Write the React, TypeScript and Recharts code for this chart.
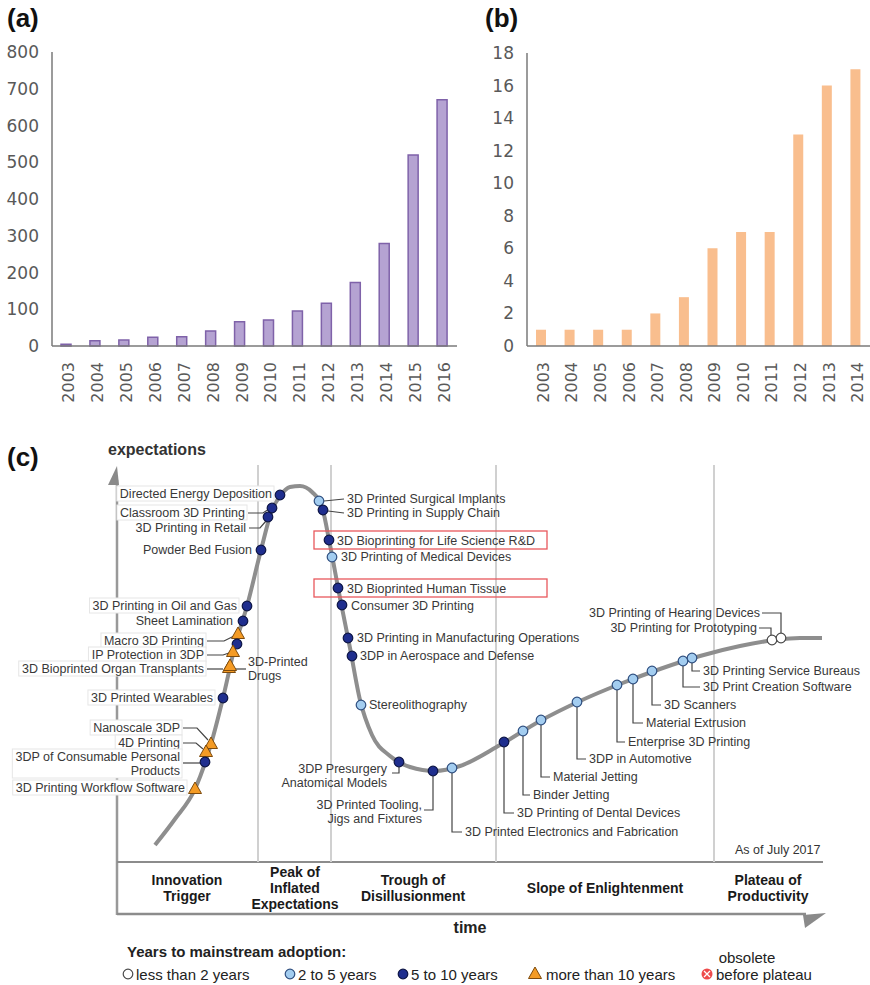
import React from 'react';
import {
  BarChart, Bar, XAxis, YAxis,
  ComposedChart, Line, Scatter, ReferenceLine,
} from 'recharts';

// (a) yearly counts 2003-2016
const yearsA = ['2003', '2004', '2005', '2006', '2007', '2008', '2009', '2010', '2011', '2012', '2013', '2014', '2015', '2016'];
const countsA = [5, 14, 16, 24, 25, 41, 66, 71, 95, 116, 173, 279, 520, 670];
const ticksA = [0, 100, 200, 300, 400, 500, 600, 700, 800];

// (b) yearly counts 2003-2014
const yearsB = ['2003', '2004', '2005', '2006', '2007', '2008', '2009', '2010', '2011', '2012', '2013', '2014'];
const countsB = [1, 1, 1, 1, 2, 3, 6, 7, 7, 13, 16, 17];
const ticksB = [0, 2, 4, 6, 8, 10, 12, 14, 16, 18];

// (c) hype cycle curve (time, expectations)
const curveTime = [38, 58, 78, 94, 106, 118, 130, 144, 155, 163, 173, 183, 195, 205, 213, 223, 233, 243, 255, 273, 293, 318, 343, 383, 423, 463, 503, 543, 583, 623, 658, 683, 705];
const curveExpect = [17, 43, 73, 118, 164, 216, 256, 312, 352, 366, 375, 376, 370, 355, 317, 264, 214, 162, 127, 106, 95, 91, 96, 117, 141, 161, 178, 193, 206, 216, 222, 224, 224];

const phaseBounds = [141, 214, 379, 597];
const phaseNames = ['Innovation\nTrigger', 'Peak of\nInflated\nExpectations', 'Trough of\nDisillusionment', 'Slope of Enlightenment', 'Plateau of\nProductivity'];

const techNames = [
  'Directed Energy Deposition', 'Classroom 3D Printing', '3D Printing in Retail', 'Powder Bed Fusion',
  '3D Printing in Oil and Gas', 'Sheet Lamination', 'Macro 3D Printing', '', 'IP Protection in 3DP',
  '3D Bioprinted Organ Transplants', '3D-Printed\nDrugs', '3D Printed Wearables', 'Nanoscale 3DP', '4D Printing',
  '3DP of Consumable Personal\nProducts', '3D Printing Workflow Software',
  '3D Printed Surgical Implants', '3D Printing in Supply Chain', '3D Bioprinting for Life Science R&D',
  '3D Printing of Medical Devices', '3D Bioprinted Human Tissue', 'Consumer 3D Printing',
  '3D Printing in Manufacturing Operations', '3DP in Aerospace and Defense', 'Stereolithography',
  '3DP Presurgery\nAnatomical Models', '3D Printed Tooling,\nJigs and Fixtures', '3D Printed Electronics and Fabrication',
  '3D Printing of Dental Devices', 'Binder Jetting', 'Material Jetting', '3DP in Automotive',
  'Enterprise 3D Printing', 'Material Extrusion', '3D Scanners', '3D Print Creation Software',
  '3D Printing Service Bureaus', '3D Printing for Prototyping', '3D Printing of Hearing Devices',
];
const techTime = [163, 155, 151, 144, 130, 126, 121, 120, 116, 112, 113, 106, 94, 89, 88, 78,
  202, 206, 212, 215, 221, 225, 231, 235, 244, 282, 316, 335, 387, 406, 424, 460, 500, 516, 535, 566, 575, 655, 664];
const techExpect = [367, 354, 345, 312, 256, 241, 228, 218, 210, 194, 196, 164, 118, 110, 100, 73,
  361, 352, 322, 305, 274, 257, 224, 206, 157, 100, 91, 94, 120, 131, 142, 160, 177, 183, 191, 201, 204, 222, 224];
const techAdoption = ['5-10', '5-10', '5-10', '5-10', '5-10', '5-10', '10+', '5-10', '10+', '10+', '10+', '5-10', '10+', '10+', '5-10', '10+',
  '2-5', '5-10', '5-10', '2-5', '5-10', '5-10', '5-10', '5-10', '2-5', '5-10', '5-10', '2-5', '5-10', '2-5', '2-5', '2-5', '2-5', '2-5', '2-5', '2-5', '2-5', '<2', '<2'];

const legendKeys = ['<2', '2-5', '5-10', '10+'];
const legendLabels = ['less than 2 years', '2 to 5 years', '5 to 10 years', 'more than 10 years'];

// ---- layout / styles ----
const drop = (dx: number, dy: number, gap = 3) => [[0, dy > 0 ? 5 : -5], [0, dy], [dx - Math.sign(dx) * gap, dy]];

const labelLayout: any[] = [
  { dx: -8, dy: -1, anchor: 'end', box: true },
  { dx: -27, dy: 5, anchor: 'end', conn: [[-24, 5], [-9, 5], [-3, 1]], box: true },
  { dx: -22, dy: 11, anchor: 'end', conn: [[-19, 11], [-8, 11], [-2, 4]] },
  { dx: -9, dy: 0, anchor: 'end' },
  { dx: -10, dy: 0, anchor: 'end', box: true },
  { dx: -10, dy: 0, anchor: 'end' },
  { dx: -34, dy: 7, anchor: 'end', conn: [[-31, 7], [-14, 7], [-4, 2]], box: true },
  {},
  { dx: -29, dy: 3, anchor: 'end', conn: [[-26, 3], [-10, 3], [-4, 1]], box: true },
  { dx: -25, dy: 1, anchor: 'end', conn: [[-22, 1], [-6, 1]], box: true },
  { dx: 18, dy: -4, anchor: 'start', conn: [[5, 3], [16, 3]] },
  { dx: -10, dy: 0, anchor: 'end', box: true },
  { dx: -31, dy: -16, anchor: 'end', conn: [[-28, -16], [-14, -16], [-3, -4]], box: true },
  { dx: -26, dy: -9, anchor: 'end', conn: [[-23, -9], [-10, -9], [-3, -3]], box: true },
  { dx: -25, dy: -5, anchor: 'end', conn: [[-22, 1], [-5, 1]], box: true },
  { dx: -10, dy: -1, anchor: 'end', box: true },
  { dx: 28, dy: -2, anchor: 'start', conn: [[5, 0], [25, -2]] },
  { dx: 24, dy: 3, anchor: 'start', conn: [[5, 1], [21, 3]] },
  { dx: 8, dy: 1, anchor: 'start', red: [-15, -9, 233, 18] },
  { dx: 9, dy: 0, anchor: 'start' },
  { dx: 9, dy: 1, anchor: 'start', red: [-24, -9, 233, 18] },
  { dx: 9, dy: 1, anchor: 'start' },
  { dx: 9, dy: 0, anchor: 'start' },
  { dx: 8, dy: 0, anchor: 'start' },
  { dx: 8, dy: 0, anchor: 'start' },
  { dx: -12, dy: 7, anchor: 'end', conn: [[0, 5], [0, 11], [-7, 11]] },
  { dx: -11, dy: 34, anchor: 'end', conn: [[0, 5], [0, 39], [-9, 39]] },
  { dx: 13, dy: 64, anchor: 'start', conn: drop(13, 64) },
  { dx: 13, dy: 71, anchor: 'start', conn: drop(13, 71) },
  { dx: 10, dy: 64, anchor: 'start', conn: drop(10, 64) },
  { dx: 12, dy: 57, anchor: 'start', conn: drop(12, 57) },
  { dx: 12, dy: 57, anchor: 'start', conn: drop(12, 57) },
  { dx: 11, dy: 57, anchor: 'start', conn: drop(11, 57) },
  { dx: 13, dy: 44, anchor: 'start', conn: drop(13, 44) },
  { dx: 12, dy: 34, anchor: 'start', conn: drop(12, 34) },
  { dx: 20, dy: 26, anchor: 'start', conn: drop(20, 26) },
  { dx: 11, dy: 13, anchor: 'start', conn: drop(11, 13) },
  { dx: -15, dy: -12, anchor: 'end', conn: [[-1, -5], [-1, -12], [-13, -12]] },
  { dx: -21, dy: -25, anchor: 'end', conn: [[0, -5], [0, -25], [-19, -25]] },
];

const markerStyle: Record<string, { fill: string; stroke: string }> = {
  '<2': { fill: '#ffffff', stroke: '#4a4a4a' },
  '2-5': { fill: '#a3cdf0', stroke: '#2f4f80' },
  '5-10': { fill: '#1f2e8e', stroke: '#0d1545' },
  '10+': { fill: '#f49b25', stroke: '#7d4a0c' },
};

const dataA = yearsA.map((year, i) => ({ year, count: countsA[i] }));
const dataB = yearsB.map((year, i) => ({ year, count: countsB[i] }));
const curveData = curveTime.map((t, i) => ({ t, e: curveExpect[i] }));
const techData = techNames.map((name, i) => ({
  name, t: techTime[i], e: techExpect[i], adoption: techAdoption[i], lay: labelLayout[i],
}));

const LABEL_FONT = 12.5;
const FONT = '"Liberation Sans", Arial, sans-serif';
const AXIS_FONT = '"DejaVu Sans", Verdana, sans-serif';

let ctx: CanvasRenderingContext2D | null = null;
const textWidth = (s: string) => {
  if (!ctx) ctx = document.createElement('canvas').getContext('2d');
  if (!ctx) return s.length * 6.5;
  ctx.font = `${LABEL_FONT}px "Liberation Sans"`;
  return ctx.measureText(s).width;
};

const YearTick = (props: any) => {
  const { x, y, payload } = props;
  return (
    <g transform={`translate(${x + 2},${y}) rotate(-90)`}>
      <text x={-14} y={0} textAnchor="end" dominantBaseline="central" fontSize={16} fontFamily={AXIS_FONT} fill="#595959">
        {payload.value}
      </text>
    </g>
  );
};

const Marker = ({ cx, cy, kind }: { cx: number; cy: number; kind: string }) => {
  const s = markerStyle[kind];
  if (kind === '10+') {
    return <path d={`M${cx},${cy - 7} L${cx + 6.5},${cy + 4.5} L${cx - 6.5},${cy + 4.5} Z`} fill={s.fill} stroke={s.stroke} strokeWidth={1} />;
  }
  return <circle cx={cx} cy={cy} r={4.8} fill={s.fill} stroke={s.stroke} strokeWidth={1.2} />;
};

const TechLabel = (props: any) => {
  const { cx, cy, payload } = props;
  if (cx == null || cy == null || !payload.name) return <g />;
  const lay = payload.lay;
  const lines: string[] = payload.name.split('\n');
  const tx = cx + lay.dx;
  const ty = cy + lay.dy;
  let box = null;
  if (lay.box) {
    const w = Math.max(...lines.map(textWidth));
    const x0 = lay.anchor === 'end' ? tx - w - 3 : tx - 3;
    box = <rect x={x0} y={ty - 8} width={w + 5} height={lines.length * 14 + 1} fill="#ffffff" stroke="#e6e6e6" strokeWidth={1} />;
  }
  return (
    <g>
      {lay.red && (
        <rect x={cx + lay.red[0]} y={cy + lay.red[1]} width={lay.red[2]} height={lay.red[3]} fill="none" stroke="#e9585c" strokeWidth={1.3} />
      )}
      {box}
      {lay.conn && (
        <polyline points={lay.conn.map((p: number[]) => `${cx + p[0]},${cy + p[1]}`).join(' ')} fill="none" stroke="#444" strokeWidth={1.2} />
      )}
      <text textAnchor={lay.anchor} fontSize={LABEL_FONT} fontFamily={FONT} fill="#383838">
        {lines.map((l, i) => (
          <tspan key={i} x={tx} y={ty + i * 14} dominantBaseline="central">{l}</tspan>
        ))}
      </text>
    </g>
  );
};

const TechMarker = (props: any) => {
  const { cx, cy, payload } = props;
  if (cx == null || cy == null) return <g />;
  return <Marker cx={cx} cy={cy} kind={payload.adoption} />;
};

const phaseCenters = [187, 295, 413, 605, 768];
const legendX = [128, 290, 403, 535];

const App = () => {
  return (
    <div style={{ position: 'relative', width: 870, height: 985, overflow: 'hidden', background: '#fff', fontFamily: FONT }}>
      <style>{'body{margin:0}'}</style>
      <svg width={870} height={985} style={{ position: 'absolute', left: 0, top: 0 }}>
        <text x={7} y={27} fontSize={26} fontWeight="bold" fill="#111">(a)</text>
        <text x={485} y={27} fontSize={26} fontWeight="bold" fill="#111">(b)</text>
        <text x={7} y={466} fontSize={26} fontWeight="bold" fill="#111">(c)</text>
        <text x={108} y={455} fontSize={16} fontWeight="bold" fill="#333">expectations</text>
        <line x1={117} y1={480} x2={117} y2={915} stroke="#999" strokeWidth={2.5} />
        <polygon points="117,466 108,485 119,485" fill="#8a8a8a" />
        <line x1={117} y1={862} x2={823} y2={862} stroke="#8c8c8c" strokeWidth={2} />
        <line x1={117} y1={914} x2={806} y2={914} stroke="#8c8c8c" strokeWidth={2.5} />
        <polygon points="803,915 826,913 805,928" fill="#8a8a8a" />
        <text x={735} y={854} fontSize={12.5} fill="#333">As of July 2017</text>
        {phaseNames.map((p, i) => {
          const ls = p.split('\n');
          const y0 = 888 - (ls.length - 1) * 8;
          return (
            <text key={i} textAnchor="middle" fontSize={14} fontWeight="bold" fill="#1a1a1a">
              {ls.map((l, j) => (
                <tspan key={j} x={phaseCenters[i]} y={y0 + j * 16} dominantBaseline="central">{l}</tspan>
              ))}
            </text>
          );
        })}
        <text x={470} y={933} textAnchor="middle" fontSize={16} fontWeight="bold" fill="#222">time</text>
        <text x={127} y={957} fontSize={15} fontWeight="bold" fill="#222">Years to mainstream adoption:</text>
        {legendKeys.map((k, i) => (
          <g key={k}>
            <Marker cx={legendX[i]} cy={974} kind={k} />
            <text x={legendX[i] + (k === '10+' ? 11 : 8)} y={974} dominantBaseline="central" fontSize={15} fill="#222">{legendLabels[i]}</text>
          </g>
        ))}
        <circle cx={707} cy={974} r={5.5} fill="#ee4b4b" />
        <path d="M704,971 L710,977 M710,971 L704,977" stroke="#fff" strokeWidth={1.3} />
        <text x={747} y={957} textAnchor="middle" dominantBaseline="central" fontSize={15} fill="#222">obsolete</text>
        <text x={716} y={974} dominantBaseline="central" fontSize={15} fill="#222">before plateau</text>
      </svg>

      <div style={{ position: 'absolute', left: 0, top: 0 }}>
        <BarChart width={460} height={410} data={dataA} margin={{ top: 52, right: 3, bottom: 14, left: 0 }}>
          <XAxis dataKey="year" interval={0} tickLine={false} tickSize={0} height={50}
            axisLine={{ stroke: '#7a7a7a', strokeWidth: 1.5 }} tick={(p: any) => <YearTick {...p} />} />
          <YAxis width={52} domain={[0, 800]} ticks={ticksA} interval={0} tickLine={false} tickSize={0} tickMargin={13}
            axisLine={{ stroke: '#7a7a7a', strokeWidth: 1.5 }}
            tick={{ fill: '#595959', fontSize: 17, fontFamily: AXIS_FONT }} />
          <Bar dataKey="count" fill="#b5a3d2" stroke="#7f62a9" strokeWidth={1.5} barSize={10} isAnimationActive={false} />
        </BarChart>
      </div>

      <div style={{ position: 'absolute', left: 440, top: 0 }}>
        <BarChart width={430} height={410} data={dataB} margin={{ top: 53, right: 0, bottom: 14, left: 0 }}>
          <XAxis dataKey="year" interval={0} tickLine={false} tickSize={0} height={50}
            axisLine={{ stroke: '#7a7a7a', strokeWidth: 1.5 }} tick={(p: any) => <YearTick {...p} />} />
          <YAxis width={87} domain={[0, 18]} ticks={ticksB} interval={0} tickLine={false} tickSize={0} tickMargin={13}
            axisLine={{ stroke: '#7a7a7a', strokeWidth: 1.5 }}
            tick={{ fill: '#595959', fontSize: 17, fontFamily: AXIS_FONT }} />
          <Bar dataKey="count" fill="#f9be8e" barSize={10} isAnimationActive={false} />
        </BarChart>
      </div>

      <div style={{ position: 'absolute', left: 0, top: 440 }}>
        <ComposedChart width={870} height={440} margin={{ top: 25, right: 47, bottom: 18, left: 117 }}>
          <XAxis type="number" dataKey="t" domain={[0, 706]} hide />
          <YAxis type="number" dataKey="e" domain={[0, 397]} hide />
          {phaseBounds.map((b) => (
            <ReferenceLine key={b} x={b} stroke="#d0d0d0" strokeWidth={2} />
          ))}
          <Line data={curveData} dataKey="e" type="monotone" stroke="#8e8e8e" strokeWidth={4} dot={false} activeDot={false} isAnimationActive={false} />
          <Scatter data={techData} shape={TechLabel} isAnimationActive={false} />
          <Scatter data={techData} shape={TechMarker} isAnimationActive={false} />
        </ComposedChart>
      </div>
    </div>
  );
};

export default App;
